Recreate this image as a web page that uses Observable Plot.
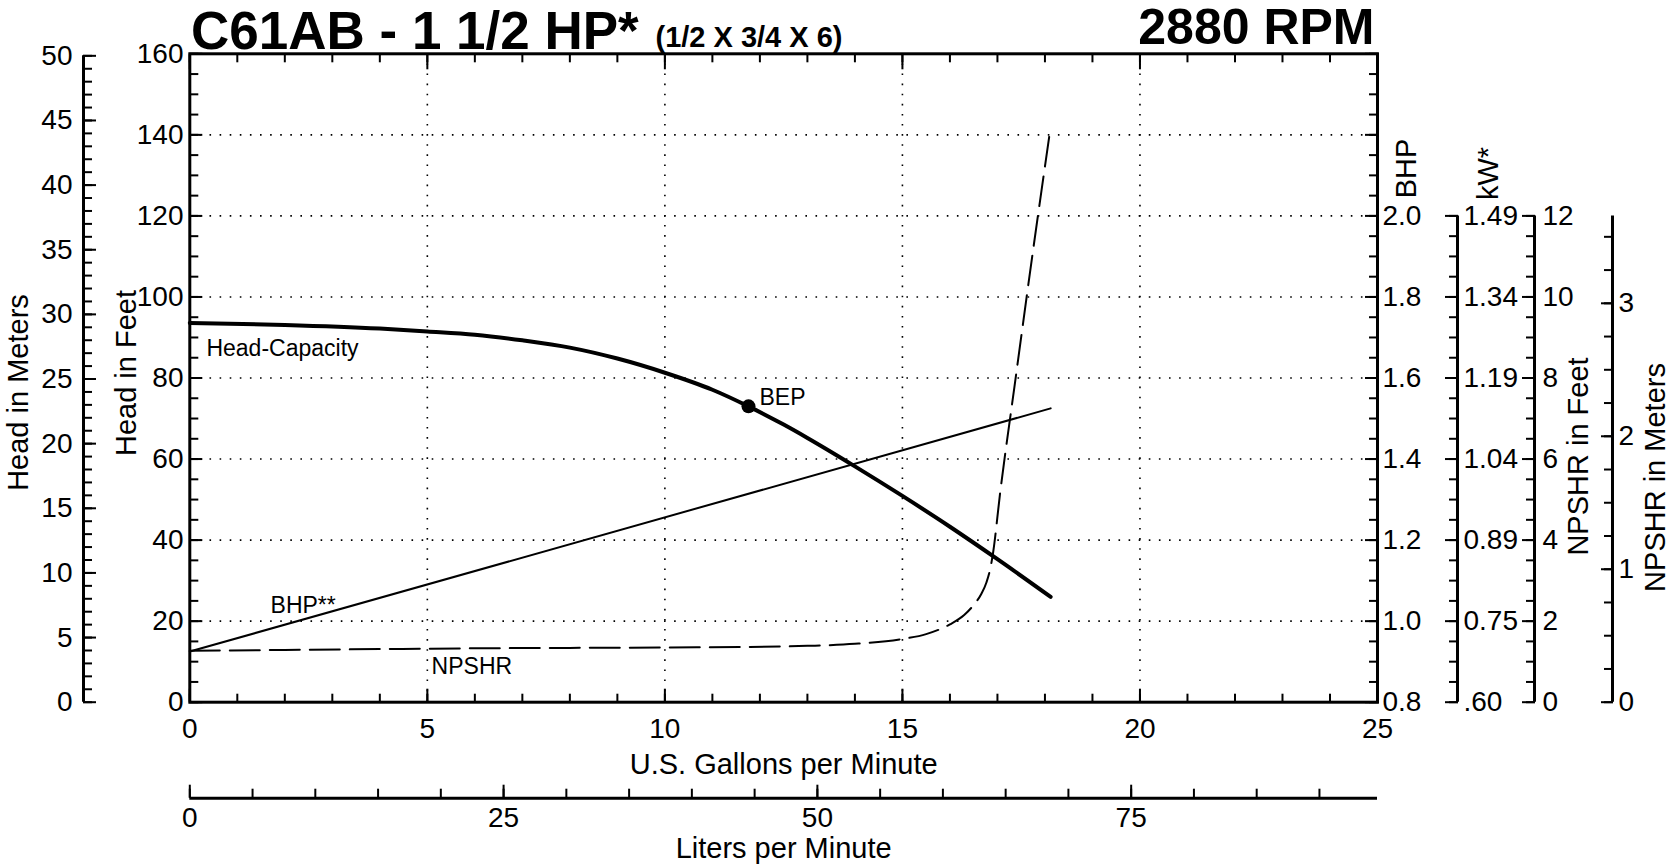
<!DOCTYPE html>
<html>
<head>
<meta charset="utf-8">
<script src="https://cdn.jsdelivr.net/npm/d3@7"></script>
<script src="https://cdn.jsdelivr.net/npm/@observablehq/plot@0.6"></script>
<style>
  html, body { margin: 0; padding: 0; background: #fff; overflow: hidden; }
  #chart svg { display: block; }
</style>
</head>
<body>
<div id="chart"></div>
<script>
// ---------------- data ----------------
// Head-Capacity curve (US gpm, feet)
const headGpm = [0, 2, 4, 5, 6, 7, 8, 9, 10, 11, 11.76, 12.5, 13, 14, 15, 16, 17, 18.12];
const headFt  = [93.6, 93.1, 92.2, 91.5, 90.7, 89.3, 87.5, 84.8, 81.3, 77.1, 73.0, 68.5, 65.2, 58.2, 50.9, 43.3, 35.3, 26.0];

// Best efficiency point
const bepGpm = [11.76];
const bepFt  = [73.0];

// Brake horsepower line (gpm, BHP)
const bhpGpm = [0, 18.12];
const bhpHp  = [0.925, 1.525];

// NPSHR curve (gpm, NPSHR in feet)
const npshrGpm = [0, 2, 4, 6, 8, 10, 11.6, 13, 14, 15, 15.5, 16, 16.3, 16.5, 16.66, 16.77, 16.85, 16.91, 17.05, 17.36, 17.75, 18.11];
const npshrFt  = [1.27, 1.29, 1.31, 1.33, 1.34, 1.35, 1.36, 1.39, 1.44, 1.56, 1.68, 1.92, 2.15, 2.40, 2.67, 2.96, 3.30, 3.70, 5.10, 7.80, 11.15, 14.12];

// curve labels
const labelText = ["Head-Capacity", "BHP**", "NPSHR"];
const labelGpm  = [0.35, 1.7, 5.09];
const labelFt   = [87.3, 23.9, 8.7];

// tick values / labels
const gpmMajor = [0, 5, 10, 15, 20, 25];
const gpmMinor = d3.range(0, 26, 1);
const ftMajor = [0, 20, 40, 60, 80, 100, 120, 140, 160];
const ftMinor = d3.range(0, 161, 5);
const gridFt = [20, 40, 60, 80, 100, 120, 140];
const gridGpm = [5, 10, 15, 20];
const meterMajor = [0, 5, 10, 15, 20, 25, 30, 35, 40, 45, 50];
const meterMinor = d3.range(0, 51, 1);
const bhpMajor = [0.8, 1.0, 1.2, 1.4, 1.6, 1.8, 2.0];
const bhpLabels = ["0.8", "1.0", "1.2", "1.4", "1.6", "1.8", "2.0"];
const kwLabels = [".60", "0.75", "0.89", "1.04", "1.19", "1.34", "1.49"];
const npshrFtMajor = [0, 2, 4, 6, 8, 10, 12];
const npshrFtMinor = d3.range(0, 12.01, 0.5);
const npshrMMajor = [0, 1, 2, 3];
const npshrMMinor = d3.range(0, 3.51, 0.25);
const lpmMajor = [0, 25, 50, 75];
const lpmMinor = d3.range(0, 91, 5);

// ---------------- unit conversions to the head-feet scale ----------------
const FT_PER_M_AXIS = 3.19;     // head meters axis as drawn
const bhpToFt = b => (b - 0.8) * 100;
const npshrToFt = n => n * 10;
const npshrMToFt = m => m * 3.281 * 10;
const LPM_PER_GPM = 3.785;

const headRows = headGpm.map((g, i) => ({gpm: g, ft: headFt[i]}));
const bepRows = bepGpm.map((g, i) => ({gpm: g, ft: bepFt[i]}));
const bhpRows = bhpGpm.map((g, i) => ({gpm: g, ft: bhpToFt(bhpHp[i])}));
const npshrRows = npshrGpm.map((g, i) => ({gpm: g, ft: npshrToFt(npshrFt[i])}));
const labelRows = labelText.map((t, i) => ({t, gpm: labelGpm[i], ft: labelFt[i]}));

const TS = 28;   // tick font size
const AT = 29;   // axis title font size
const SW = 2;    // tick stroke width

const minorY = (ticks, o) => Plot.axisY(ticks, {tickSize: -9, fill: "none", strokeWidth: SW, label: null, ...o});
const minorX = (ticks, o) => Plot.axisX(ticks, {tickSize: -8, fill: "none", strokeWidth: SW, label: null, ...o});
const title = (txt, o) => Plot.text([txt], {textAnchor: "middle", lineAnchor: "middle", fontSize: AT, ...o});

const chart = Plot.plot({
  width: 1674,
  height: 867,
  marginLeft: 189.3,
  marginRight: 297,
  marginTop: 53.3,
  marginBottom: 165.3,
  style: {fontFamily: "'Liberation Sans', Arial, sans-serif", fontSize: "28px", color: "black", background: "white"},
  x: {domain: [0, 25], label: null},
  y: {domain: [0, 160], label: null},
  marks: [
    // dotted grid
    Plot.ruleY(gridFt, {stroke: "black", strokeWidth: 1.6, strokeDasharray: "1.6,8.5"}),
    Plot.ruleX(gridGpm, {stroke: "black", strokeWidth: 1.6, strokeDasharray: "1.6,8.5"}),

    // frame
    Plot.frame({strokeWidth: 3}),

    // bottom gpm axis
    Plot.axisX(gpmMajor, {anchor: "bottom", tickSize: -13, tickPadding: 29.3, strokeWidth: SW, fontSize: TS, label: null}),
    minorX(gpmMinor, {anchor: "bottom"}),
    // top ticks
    Plot.axisX(gpmMajor, {anchor: "top", tickSize: -15, fill: "none", strokeWidth: SW, label: null}),
    minorX(gpmMinor, {anchor: "top"}),

    // liters per minute axis
    Plot.ruleY([0], {x1: 0, x2: 25, dy: 96, strokeWidth: 3}),
    Plot.axisX(lpmMajor.map(l => l / LPM_PER_GPM), {anchor: "bottom", dy: 96, tickSize: -13, tickPadding: 22.3, strokeWidth: SW, fontSize: TS, label: null,
      tickFormat: d => String(Math.round(d * LPM_PER_GPM))}),
    minorX(lpmMinor.map(l => l / LPM_PER_GPM), {anchor: "bottom", dy: 96, tickSize: -9}),

    // head in feet (left)
    Plot.axisY(ftMajor, {anchor: "left", tickSize: -13, tickPadding: 19.3, strokeWidth: SW, fontSize: TS, label: null}),
    minorY(ftMinor, {anchor: "left"}),

    // head in meters (far left)
    Plot.ruleX([0], {y1: 0, y2: 50 * FT_PER_M_AXIS, dx: -106.3, strokeWidth: 3}),
    Plot.axisY(meterMajor.map(m => m * FT_PER_M_AXIS), {anchor: "left", dx: -106.3, tickSize: -13, tickPadding: 24, strokeWidth: SW, fontSize: TS, label: null,
      tickFormat: d => String(Math.round(d / FT_PER_M_AXIS))}),
    minorY(meterMinor.map(m => m * FT_PER_M_AXIS), {anchor: "left", dx: -106.3}),

    // BHP (main right)
    Plot.axisY(ftMajor, {anchor: "right", tickSize: -13, tickPadding: 18, strokeWidth: SW, fontSize: TS, label: null,
      tickFormat: d => { const i = bhpMajor.findIndex(b => Math.abs(bhpToFt(b) - d) < 0.01); return i < 0 ? "" : bhpLabels[i]; }}),
    minorY(ftMinor, {anchor: "right"}),

    // kW axis
    Plot.ruleX([25], {y1: 0, y2: 120, dx: 80, strokeWidth: 3}),
    Plot.axisY(bhpMajor.map(bhpToFt), {anchor: "right", dx: 80, tickSize: -13, tickPadding: 19, strokeWidth: SW, fontSize: TS, label: null,
      tickFormat: d => kwLabels[Math.round(d / 20)]}),
    minorY(d3.range(0, 121, 5), {anchor: "right", dx: 80}),

    // NPSHR in feet axis
    Plot.ruleX([25], {y1: 0, y2: 120, dx: 157, strokeWidth: 3}),
    Plot.axisY(npshrFtMajor.map(npshrToFt), {anchor: "right", dx: 157, tickSize: -13, tickPadding: 21, strokeWidth: SW, fontSize: TS, label: null,
      tickFormat: d => String(Math.round(d / 10))}),
    minorY(npshrFtMinor.map(npshrToFt), {anchor: "right", dx: 157}),

    // NPSHR in meters axis
    Plot.ruleX([25], {y1: 0, y2: 120, dx: 235, strokeWidth: 3}),
    Plot.axisY(npshrMMajor.map(npshrMToFt), {anchor: "right", dx: 235, tickSize: -12, tickPadding: 18, strokeWidth: SW, fontSize: TS, label: null,
      tickFormat: d => String(Math.round(d / 32.81))}),
    minorY(npshrMMinor.map(npshrMToFt), {anchor: "right", dx: 235}),

    // curves
    Plot.line(bhpRows, {x: "gpm", y: "ft", stroke: "black", strokeWidth: 2}),
    Plot.line(npshrRows, {x: "gpm", y: "ft", stroke: "black", strokeWidth: 2, strokeDasharray: "30,10", curve: "monotone-x"}),
    Plot.line(headRows, {x: "gpm", y: "ft", stroke: "black", strokeWidth: 4, curve: "monotone-x"}),
    Plot.dot(bepRows, {x: "gpm", y: "ft", r: 7, fill: "black"}),

    // curve labels
    Plot.text(bepRows, {x: "gpm", y: "ft", text: () => "BEP", dx: 11, dy: -9, textAnchor: "start", fontSize: 23}),
    Plot.text(labelRows, {x: "gpm", y: "ft", text: "t", textAnchor: "start", fontSize: 23}),

    // titles
    Plot.text(["C61AB - 1 1/2 HP*"], {frameAnchor: "top-left", dx: 1.2, dy: -5.3, lineAnchor: "bottom", textAnchor: "start", fontSize: 53, fontWeight: "bold"}),
    Plot.text(["(1/2 X 3/4 X 6)"], {frameAnchor: "top-left", dx: 465.7, dy: -6.6, lineAnchor: "bottom", textAnchor: "start", fontSize: 29, fontWeight: "bold"}),
    Plot.text(["2880 RPM"], {frameAnchor: "top-right", dx: -3, dy: -9.5, lineAnchor: "bottom", textAnchor: "end", fontSize: 50, fontWeight: "bold"}),

    // axis titles
    title("Head in Meters", {frameAnchor: "left", dx: -171.3, dy: 14.5, rotate: -90}),
    title("Head in Feet", {frameAnchor: "left", dx: -63.3, dy: -5, rotate: -90}),
    title("BHP", {frameAnchor: "top-right", dx: 29, dy: 114.7, rotate: -90}),
    title("kW*", {frameAnchor: "top-right", dx: 111, dy: 119.7, rotate: -90}),
    title("NPSHR in Feet", {frameAnchor: "right", dx: 201, dy: 78.5, rotate: -90}),
    title("NPSHR in Meters", {frameAnchor: "right", dx: 278, dy: 99.5, rotate: -90}),
    title("U.S. Gallons per Minute", {frameAnchor: "bottom", dy: 62.3}),
    title("Liters per Minute", {frameAnchor: "bottom", dy: 146.5})
  ]
});
document.getElementById("chart").appendChild(chart);
</script>
</body>
</html>
